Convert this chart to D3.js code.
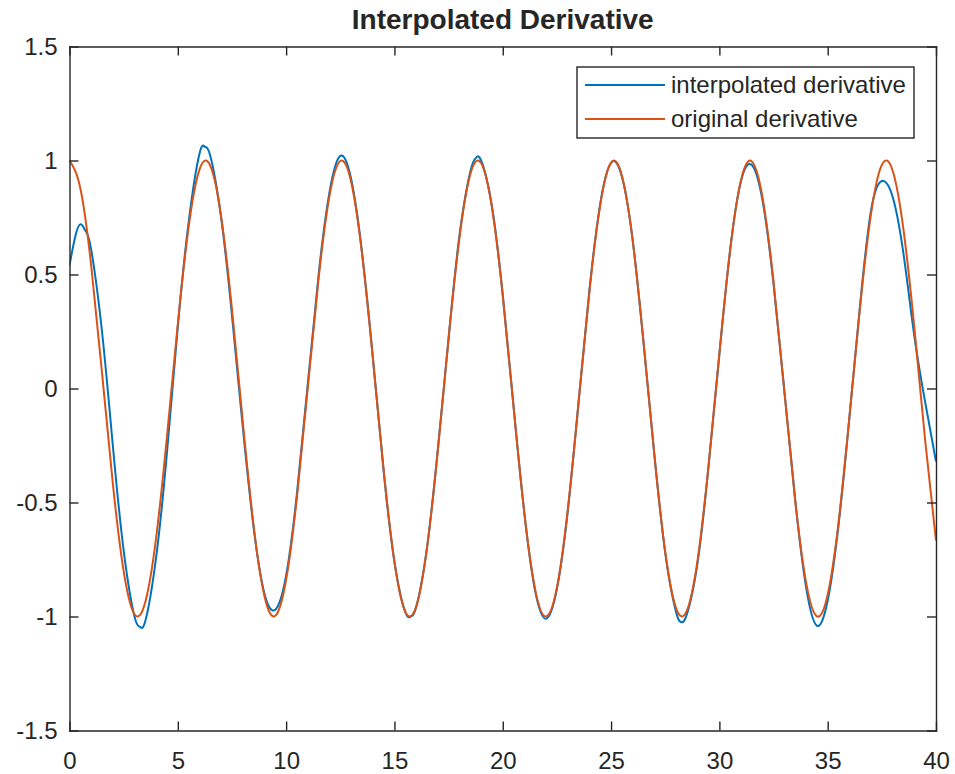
<!DOCTYPE html>
<html lang="en">
<head>
<meta charset="utf-8">
<title>Interpolated Derivative</title>
<script src="https://d3js.org/d3.v7.min.js"></script>
<style>
  body { margin: 0; background: #ffffff; }
  svg text { font-family: "Liberation Sans", Arial, Helvetica, sans-serif; fill: #262626; }
</style>
</head>
<body>
<div id="graph"></div>
<script>
// values
const xTicks = [0, 5, 10, 15, 20, 25, 30, 35, 40];
const yTicks = [-1.5, -1, -0.5, 0, 0.5, 1, 1.5];

const seriesNames = ["interpolated derivative", "original derivative"];
const seriesColors = ["#0072BD", "#D95319"];

// interpolated derivative (blue)
const interpX = [
  0, 0.25, 0.5, 0.75, 1, 1.5, 2, 2.5, 3, 3.25, 3.5, 4, 4.5, 5, 5.5, 6, 6.25, 6.5, 7, 7.5,
  8, 8.5, 9, 9.5, 10, 10.5, 11, 11.5, 12, 12.5, 13, 13.5, 14, 14.5, 15, 15.5, 15.75, 16, 16.5, 17,
  17.5, 18, 18.5, 18.75, 19, 19.5, 20, 20.5, 21, 21.5, 22, 22.5, 23, 23.5, 24, 24.5, 25, 25.5, 26, 26.5,
  27, 27.5, 28, 28.25, 28.5, 29, 29.5, 30, 30.5, 31, 31.5, 32, 32.5, 33, 33.5, 34, 34.5, 35, 35.5, 36,
  36.5, 37, 37.5, 38, 38.5, 39, 39.5, 40
];
const interpY = [
  0.54, 0.66, 0.72, 0.69, 0.61, 0.25, -0.25, -0.71, -1.00, -1.045, -1.02, -0.74, -0.28, 0.27, 0.73, 1.03, 1.06, 1.02, 0.75, 0.32,
  -0.17, -0.61, -0.90, -0.97, -0.82, -0.46, 0.02, 0.50, 0.86, 1.02, 0.92, 0.60, 0.14, -0.36, -0.76, -0.98, -1.00, -0.96, -0.70, -0.27,
  0.22, 0.67, 0.95, 1.01, 1.00, 0.80, 0.41, -0.08, -0.55, -0.89, -1.01, -0.88, -0.54, -0.06, 0.43, 0.81, 0.99, 0.93, 0.65, 0.20,
  -0.29, -0.72, -0.98, -1.025, -0.99, -0.76, -0.34, 0.15, 0.61, 0.91, 0.98, 0.82, 0.46, -0.01, -0.49, -0.87, -1.04, -0.93, -0.60, -0.13,
  0.37, 0.78, 0.91, 0.84, 0.59, 0.23, -0.06, -0.32
];

// original derivative (orange)
const origX = [
  0, 0.5, 1, 1.5, 2, 2.5, 3, 3.5, 4, 4.5, 5, 5.5, 6, 6.5, 7, 7.5, 8, 8.5, 9, 9.5,
  10, 10.5, 11, 11.5, 12, 12.5, 13, 13.5, 14, 14.5, 15, 15.5, 16, 16.5, 17, 17.5, 18, 18.5, 19, 19.5,
  20, 20.5, 21, 21.5, 22, 22.5, 23, 23.5, 24, 24.5, 25, 25.5, 26, 26.5, 27, 27.5, 28, 28.5, 29, 29.5,
  30, 30.5, 31, 31.5, 32, 32.5, 33, 33.5, 34, 34.5, 35, 35.5, 36, 36.5, 37, 37.5, 38, 38.5, 39, 39.5, 40
];
const origY = [
  1.000, 0.878, 0.540, 0.071, -0.416, -0.801, -0.990, -0.936, -0.654, -0.211, 0.284, 0.709, 0.960, 0.977, 0.754, 0.347, -0.146, -0.602, -0.911, -0.997,
  -0.839, -0.476, 0.004, 0.483, 0.844, 0.998, 0.907, 0.595, 0.137, -0.355, -0.760, -0.979, -0.958, -0.702, -0.275, 0.220, 0.660, 0.939, 0.989, 0.795,
  0.408, -0.081, -0.548, -0.883, -1.000, -0.873, -0.533, -0.062, 0.424, 0.806, 0.991, 0.933, 0.647, 0.202, -0.292, -0.716, -0.963, -0.974, -0.748, -0.339,
  0.154, 0.609, 0.915, 0.996, 0.834, 0.468, -0.013, -0.490, -0.849, -0.999, -0.904, -0.588, -0.128, 0.363, 0.766, 0.981, 0.955, 0.696, 0.267, -0.228, -0.667
];

// page / plot dimensions
const W = 955, H = 774;
const margin = { top: 46.5, right: 19, bottom: 43.5, left: 69.5 };
const width = W - margin.left - margin.right;
const height = H - margin.top - margin.bottom;

const svg = d3.select("#graph")
  .append("svg")
  .attr("width", W)
  .attr("height", H);

const g = svg.append("g")
  .attr("transform", `translate(${margin.left}, ${margin.top})`);

const x = d3.scaleLinear().domain([0, 40]).range([0, width]);
const y = d3.scaleLinear().domain([-1.5, 1.5]).range([height, 0]);

// clip curves to the axes box
g.append("clipPath").attr("id", "plotclip")
  .append("rect").attr("width", width).attr("height", height);

const line = d3.line()
  .x(d => x(d[0]))
  .y(d => y(d[1]))
  .curve(d3.curveNatural);

const interpData = interpX.map((v, i) => [v, interpY[i]]);
const origData = origX.map((v, i) => [v, origY[i]]);

const curves = g.append("g").attr("clip-path", "url(#plotclip)");
curves.append("path")
  .datum(interpData)
  .attr("fill", "none")
  .attr("stroke", seriesColors[0])
  .attr("stroke-width", 2)
  .attr("d", line);
curves.append("path")
  .datum(origData)
  .attr("fill", "none")
  .attr("stroke", seriesColors[1])
  .attr("stroke-width", 2)
  .attr("d", line);

// axes, matlab style: ticks pointing inwards, box all round
const axisColor = "#262626";
function styleAxis(sel) {
  sel.select(".domain").attr("stroke", axisColor).attr("stroke-width", 1.4);
  sel.selectAll(".tick line").attr("stroke", axisColor).attr("stroke-width", 1.4);
  sel.selectAll(".tick text").style("font-size", "24px").attr("fill", axisColor);
}

g.append("g")
  .attr("transform", `translate(0, ${height})`)
  .call(d3.axisBottom(x).tickValues(xTicks).tickFormat(d3.format("d"))
    .tickSizeInner(-9).tickSizeOuter(0).tickPadding(21))
  .call(styleAxis);

g.append("g")
  .call(d3.axisLeft(y).tickValues(yTicks).tickFormat(d => String(d))
    .tickSizeInner(-9).tickSizeOuter(0).tickPadding(12))
  .call(styleAxis);

g.append("g")
  .call(d3.axisTop(x).tickValues(xTicks).tickFormat("")
    .tickSizeInner(-9).tickSizeOuter(0))
  .call(styleAxis);

g.append("g")
  .attr("transform", `translate(${width}, 0)`)
  .call(d3.axisRight(y).tickValues(yTicks).tickFormat("")
    .tickSizeInner(-9).tickSizeOuter(0))
  .call(styleAxis);

svg.selectAll(".domain").attr("stroke-linecap", "square");

// title
svg.append("text")
  .attr("x", margin.left + width / 2)
  .attr("y", 29)
  .attr("text-anchor", "middle")
  .style("font-size", "28px")
  .style("font-weight", "bold")
  .attr("fill", "#000")
  .text("Interpolated Derivative");

// legend
const legend = svg.append("g").attr("transform", "translate(577, 67)");
legend.append("rect")
  .attr("width", 337)
  .attr("height", 71)
  .attr("fill", "#fff")
  .attr("stroke", axisColor)
  .attr("stroke-width", 1.4);

seriesNames.forEach((name, i) => {
  const yy = 18 + i * 34;
  legend.append("line")
    .attr("x1", 8).attr("x2", 88)
    .attr("y1", yy).attr("y2", yy)
    .attr("stroke", seriesColors[i])
    .attr("stroke-width", 2);
  legend.append("text")
    .attr("x", 94)
    .attr("y", yy)
    .attr("dy", "0.35em")
    .style("font-size", "24px")
    .attr("fill", axisColor)
    .text(name);
});
</script>
</body>
</html>
